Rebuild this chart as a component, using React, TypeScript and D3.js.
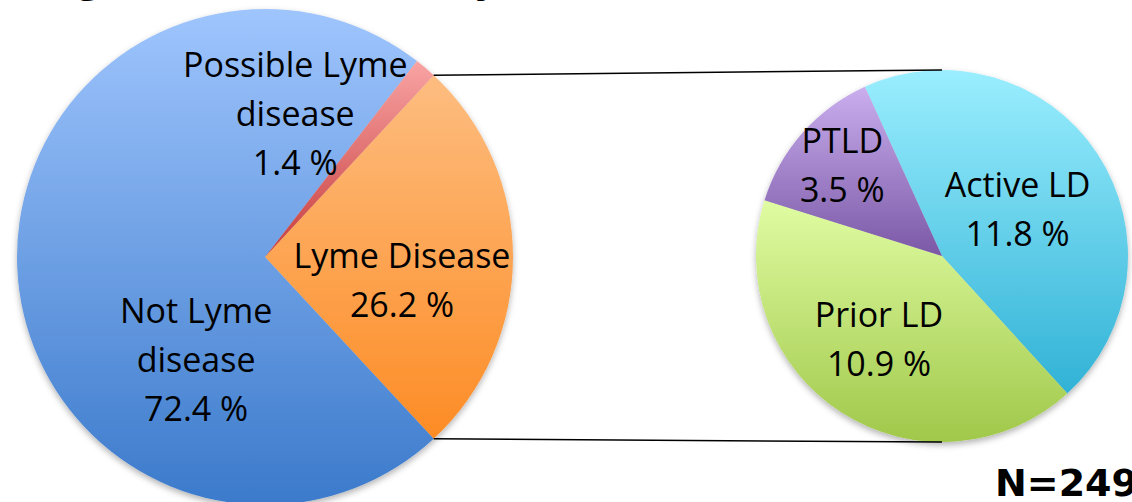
import React from "react";
import * as d3 from "d3";

// ---- data ----
const leftCategories = ["Lyme Disease", "Not Lyme disease", "Possible Lyme disease"];
const leftValues = [26.2, 72.4, 1.4];
const leftLabelLines = [["Lyme Disease"], ["Not Lyme", "disease"], ["Possible Lyme", "disease"]];

const rightCategories = ["Active LD", "Prior LD", "PTLD"];
const rightValues = [11.8, 10.9, 3.5];
const rightLabelLines = [["Active LD"], ["Prior LD"], ["PTLD"]];

const titleText = "Diagnoses in the study";
const noteText = "N=249";

// ---- styles / layout ----
const W = 1132;
const H = 502;
const leftColors = [
  ["#fdbd80", "#fd8c25"],
  ["#9fc5fd", "#3b7acb"],
  ["#f9a3a3", "#c63c3c"],
];
const rightColors = [
  ["#9aeefe", "#31b2d6"],
  ["#e0fca2", "#a0c84a"],
  ["#caaeee", "#7a58a6"],
];
// label nudges relative to arc centroid (first line baseline)
const leftNudge = [
  [13, 11],
  [55, 61],
  [-50, -85],
];
const rightNudge = [
  [-2, -8],
  [-13, -7],
  [-30, -41],
];

const FONT = "'Open Sans', sans-serif";
const FS = 34;
const LH = 49;

type PieSpec = {
  id: string;
  cx: number;
  cy: number;
  r: number;
  start: number;
  values: number[];
  cats: string[];
  lines: string[][];
  colors: string[][];
  nudge: number[][];
};

function Pie({ spec }: { spec: PieSpec }) {
  const pie = d3
    .pie<number>()
    .sort(null)
    .value((d) => d)
    .startAngle(spec.start)
    .endAngle(spec.start + 2 * Math.PI);
  const arcs = pie(spec.values);
  const arc = d3.arc<d3.PieArcDatum<number>>().innerRadius(0).outerRadius(spec.r);
  return (
    <g transform={`translate(${spec.cx},${spec.cy})`}>
      <defs>
        {arcs.map((a, i) => (
          <linearGradient key={i} id={`${spec.id}-g${i}`} x1="0" y1="0" x2="0" y2="1">
            <stop offset="0%" stopColor={spec.colors[i][0]} />
            <stop offset="100%" stopColor={spec.colors[i][1]} />
          </linearGradient>
        ))}
      </defs>
      <g filter="url(#shadow)">
        {arcs.map((a, i) => (
          <path key={i} d={arc(a) || ""} fill={`url(#${spec.id}-g${i})`} />
        ))}
      </g>
      {arcs.map((a, i) => {
        const [x, y] = arc.centroid(a);
        const lx = x + spec.nudge[i][0];
        const ly = y + spec.nudge[i][1];
        const lines = [...spec.lines[i], `${spec.values[i]} %`];
        return (
          <text
            key={i}
            x={lx}
            y={ly}
            textAnchor="middle"
            fontFamily={FONT}
            fontSize={FS}
            fill="#000"
          >
            {lines.map((l, j) => (
              <tspan key={j} x={lx} y={ly + j * LH}>
                {l}
              </tspan>
            ))}
          </text>
        );
      })}
    </g>
  );
}

export default function App() {
  const lymeSpan = (leftValues[0] / d3.sum(leftValues)) * 2 * Math.PI;
  const leftSpec: PieSpec = {
    id: "L",
    cx: 265,
    cy: 257,
    r: 248,
    // centre the Lyme Disease slice on the 3 o'clock direction
    start: Math.PI / 2 - lymeSpan / 2,
    values: leftValues,
    cats: leftCategories,
    lines: leftLabelLines,
    colors: leftColors,
    nudge: leftNudge,
  };

  const rightSpec: PieSpec = {
    id: "R",
    cx: 942,
    cy: 256,
    r: 186,
    start: (-24.5 * Math.PI) / 180,
    values: rightValues,
    cats: rightCategories,
    lines: rightLabelLines,
    colors: rightColors,
    nudge: rightNudge,
  };

  const a0 = leftSpec.start;
  const a1 = leftSpec.start + lymeSpan;
  const p0 = [leftSpec.cx + leftSpec.r * Math.sin(a0), leftSpec.cy - leftSpec.r * Math.cos(a0)];
  const p1 = [leftSpec.cx + leftSpec.r * Math.sin(a1), leftSpec.cy - leftSpec.r * Math.cos(a1)];

  return (
    <svg
      width={W}
      height={H}
      style={{ position: "absolute", left: 0, top: 0, background: "#fff" }}
    >
      <defs>
        <filter id="shadow" x="-20%" y="-20%" width="140%" height="140%">
          <feDropShadow dx="0" dy="3" stdDeviation="3" floodColor="#000" floodOpacity="0.3" />
        </filter>
      </defs>
      <text x={4} y={-10} fontFamily={FONT} fontWeight="bold" fontSize={44} fill="#000">
        {titleText}
      </text>
      <Pie spec={leftSpec} />
      <Pie spec={rightSpec} />
      <line
        x1={p0[0]}
        y1={p0[1]}
        x2={rightSpec.cx}
        y2={rightSpec.cy - rightSpec.r}
        stroke="#000"
        strokeWidth={1.5}
      />
      <line
        x1={p1[0]}
        y1={p1[1]}
        x2={rightSpec.cx}
        y2={rightSpec.cy + rightSpec.r}
        stroke="#000"
        strokeWidth={1.5}
      />
      <text
        x={995}
        y={496}
        fontFamily="'DejaVu Sans', sans-serif"
        fontWeight="bold"
        fontSize={38}
        fill="#000"
      >
        {noteText}
      </text>
    </svg>
  );
}
